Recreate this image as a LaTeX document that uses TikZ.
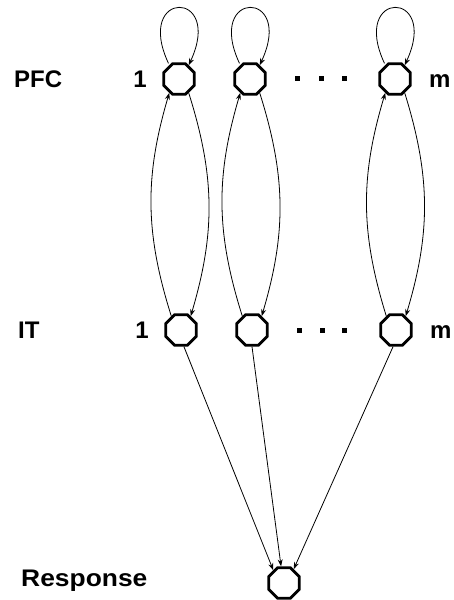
\documentclass[tikz,border=0pt]{standalone}
\usepackage{fontspec}
\setmainfont{Liberation Sans}
\usetikzlibrary{shapes.geometric,arrows.meta}
\tikzstyle{unit} = [regular polygon, regular polygon sides=8, draw, line width=2.8pt, minimum size=33pt, inner sep=0pt]
\tikzstyle{link} = [-{Stealth[length=7pt,width=5pt]}, line width=0.8pt]
\tikzstyle{lbl} = [font=\fontsize{24}{28}\selectfont\bfseries, inner sep=0pt]

\begin{document}
\begin{tikzpicture}[x=1pt,y=1pt]
\useasboundingbox (0,0) rectangle (454,600);
\node [unit] (p1) at (179,521) {};
\node [unit] (p2) at (250,521) {};
\node [unit] (pm) at (395,521) {};
\node [unit] (i1) at (181,270) {};
\node [unit] (i2) at (252,270) {};
\node [unit] (im) at (396,270) {};
\node [unit] (r) at (284,17) {};

\node [lbl, anchor=base west] (pfc) at (14,512) {PFC};
\node [lbl, anchor=base west] (it) at (18,261) {IT};
\node [lbl, anchor=base west, xscale=1.1] (resp) at (21,13) {Response};
\node [lbl, anchor=base east] (p1n) at (147,512) {1};
\node [lbl, anchor=base east] (i1n) at (149,261) {1};
\node [lbl, anchor=base west] (pmn) at (429,512) {m};
\node [lbl, anchor=base west] (imn) at (430,261) {m};

\foreach \x in {297,321,344} \fill (\x-2.5,518.5) rectangle +(5,5);
\foreach \x in {299,322,344} \fill (\x-2.5,266.5) rectangle +(5,5);

\foreach \n in {1,2,m} {
	\draw [link] (p\n.-55) to[bend left=17] (i\n.55);
	\draw [link] (i\n.125) to[bend left=17] (p\n.-125);
	\draw [link, shorten <=2pt] (p\n.125) .. controls +(115:84) and +(65:84) .. (p\n.55);
}
\draw [link] (i1.-80) -- (r.130);
\draw [link] (i2.-90) -- (r.100);
\draw [link] (im.-100) -- (r.55);
\end{tikzpicture}
\end{document}
